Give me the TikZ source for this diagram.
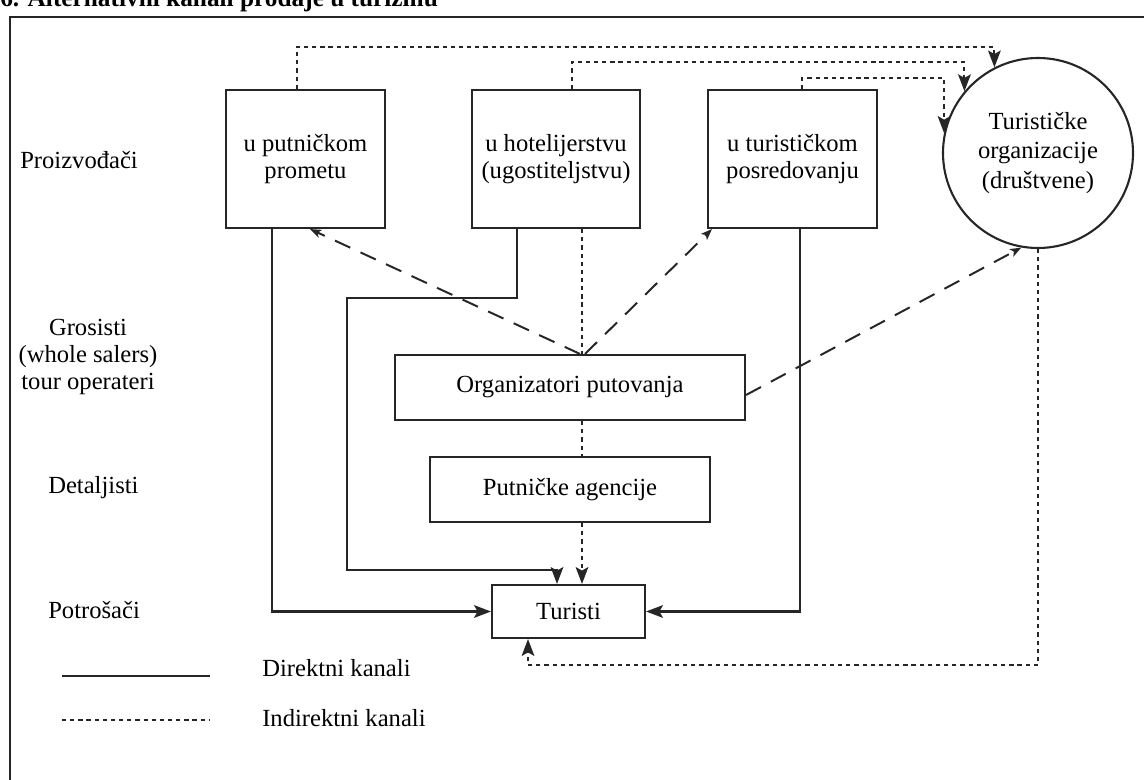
\documentclass[tikz,border=0pt]{standalone}
\usepackage{fontspec}
\setmainfont{Liberation Serif}
\usetikzlibrary{arrows.meta}

\tikzset{
  ink/.style={line width=1.5pt, draw=black!85},
  box/.style={ink, rectangle, inner sep=0pt, align=center, font=\lbl},
  direct/.style={ink},
  indirect/.style={ink, dash pattern=on 3pt off 2.8pt},
  longdash/.style={ink, line width=1.4pt, dash pattern=on 12pt off 8pt},
  head/.style={-{Stealth[length=12pt,width=9pt,inset=2.5pt]}},
  smallhead/.style={-{Stealth[length=8pt,width=6pt,inset=2pt]}},
  wh/.style 2 args={minimum width=#1*0.025cm, minimum height=#2*0.025cm},
  side/.style={font=\lbl, inner sep=0pt, align=center},
}
\newcommand{\lbl}{\fontsize{17.5}{19.5}\selectfont}

\begin{document}
\begin{tikzpicture}[x=0.025cm, y=-0.025cm]
\useasboundingbox (0,0) rectangle (1144,780);

% heading, cut by the upper edge
\node[anchor=base west, inner sep=0pt, font=\fontsize{18}{20}\selectfont\bfseries]
  (title) at (0,7) {6. Alternativni kanali prodaje u turizmu};

% open frame
\coordinate (ftl) at (10,17);
\coordinate (ftr) at (1144,17);
\coordinate (fbl) at (10,780);
\draw[ink] (fbl) -- (ftl) -- (ftr);

% producers
\node[box, wh={159}{138}] (p1) at (305.5,159) {u putničkom\\prometu};
\node[box, wh={168}{138}] (p2) at (556,159) {u hotelijerstvu\\(ugostiteljstvu)};
\node[box, wh={169}{138}] (p3) at (792.5,159) {u turističkom\\posredovanju};
\node[ink, circle, inner sep=0pt, minimum size=190*0.025cm, align=center,
  font=\fontsize{17.5}{21}\selectfont]
  (org) at (1038,153) {Turističke\\organizacije\\(društvene)};

% intermediaries and consumers
\node[box, wh={350}{65}] (ot) at (570,387.5) {Organizatori putovanja};
\node[box, wh={280}{65}] (pa) at (570,489.5) {Putničke agencije};
\node[box, wh={153}{53}] (tu) at (568.5,611.5) {Turisti};

% row labels
\node[side, anchor=west] (lp) at (20,160) {Proizvođači};
\node[side] (lg) at (88,357) {Grosisti\\(whole salers)\\tour operateri};
\node[side, anchor=west] (ld) at (48,488) {Detaljisti};
\node[side, anchor=west] (lc) at (48,610) {Potrošači};

% direct channels
\coordinate (b1) at (272,0);
\draw[direct, head] (p1.south -| b1) |- (tu.west);
\coordinate (b2a) at (517,298);
\coordinate (b2b) at (347,570);
\coordinate (b2c) at (557,0);
\draw[direct, head] (p2.south -| b2a) -- (b2a) -| (b2b) -| (tu.north -| b2c);
\coordinate (b3) at (800,0);
\draw[direct, head] (p3.south -| b3) |- (tu.east);

% indirect channels towards the tourist organisations
\coordinate (a1) at (297,47);
\coordinate (a2) at (572,62);
\coordinate (a3) at (802,78);
\draw[indirect, head] (p1.north -| a1) -- (a1) -| (org.117);
\draw[indirect, head] (p2.north -| a2) -- (a2) -| (org.140);
\draw[indirect, head] (p3.north -| a3) -- (a3) -| (org.168);

% indirect chain through the tour operators and agencies
\coordinate (v) at (582,0);
\draw[indirect] (p2.south -| v) -- (ot.north -| v);
\draw[indirect] (ot.south -| v) -- (pa.north -| v);
\draw[indirect, head] (pa.south -| v) -- (tu.north -| v);

% indirect channel from the tourist organisations to the tourists
\coordinate (a5) at (528,665);
\draw[indirect, head] (org.south) |- (a5) -- (tu.south -| a5);

% dashed links from the tour operators
\coordinate (e1s) at (580,0);
\coordinate (e1e) at (310,0);
\coordinate (e2s) at (585,0);
\coordinate (e2e) at (712,0);
\coordinate (e3s) at (0,395);
\draw[longdash, smallhead] (ot.north -| e1s) -- (p1.south -| e1e);
\draw[longdash, smallhead] (ot.north -| e2s) -- (p3.south -| e2e);
\draw[longdash, smallhead] (ot.east |- e3s) -- (org.260);

% legend
\coordinate (ls1) at (62,676);
\coordinate (ls2) at (210,676);
\coordinate (li1) at (62,720);
\coordinate (li2) at (210,720);
\draw[direct] (ls1) -- (ls2);
\draw[indirect] (li1) -- (li2);
\node[side, anchor=west] (lt1) at (262,668) {Direktni kanali};
\node[side, anchor=west] (lt2) at (262,718) {Indirektni kanali};
\end{tikzpicture}
\end{document}
